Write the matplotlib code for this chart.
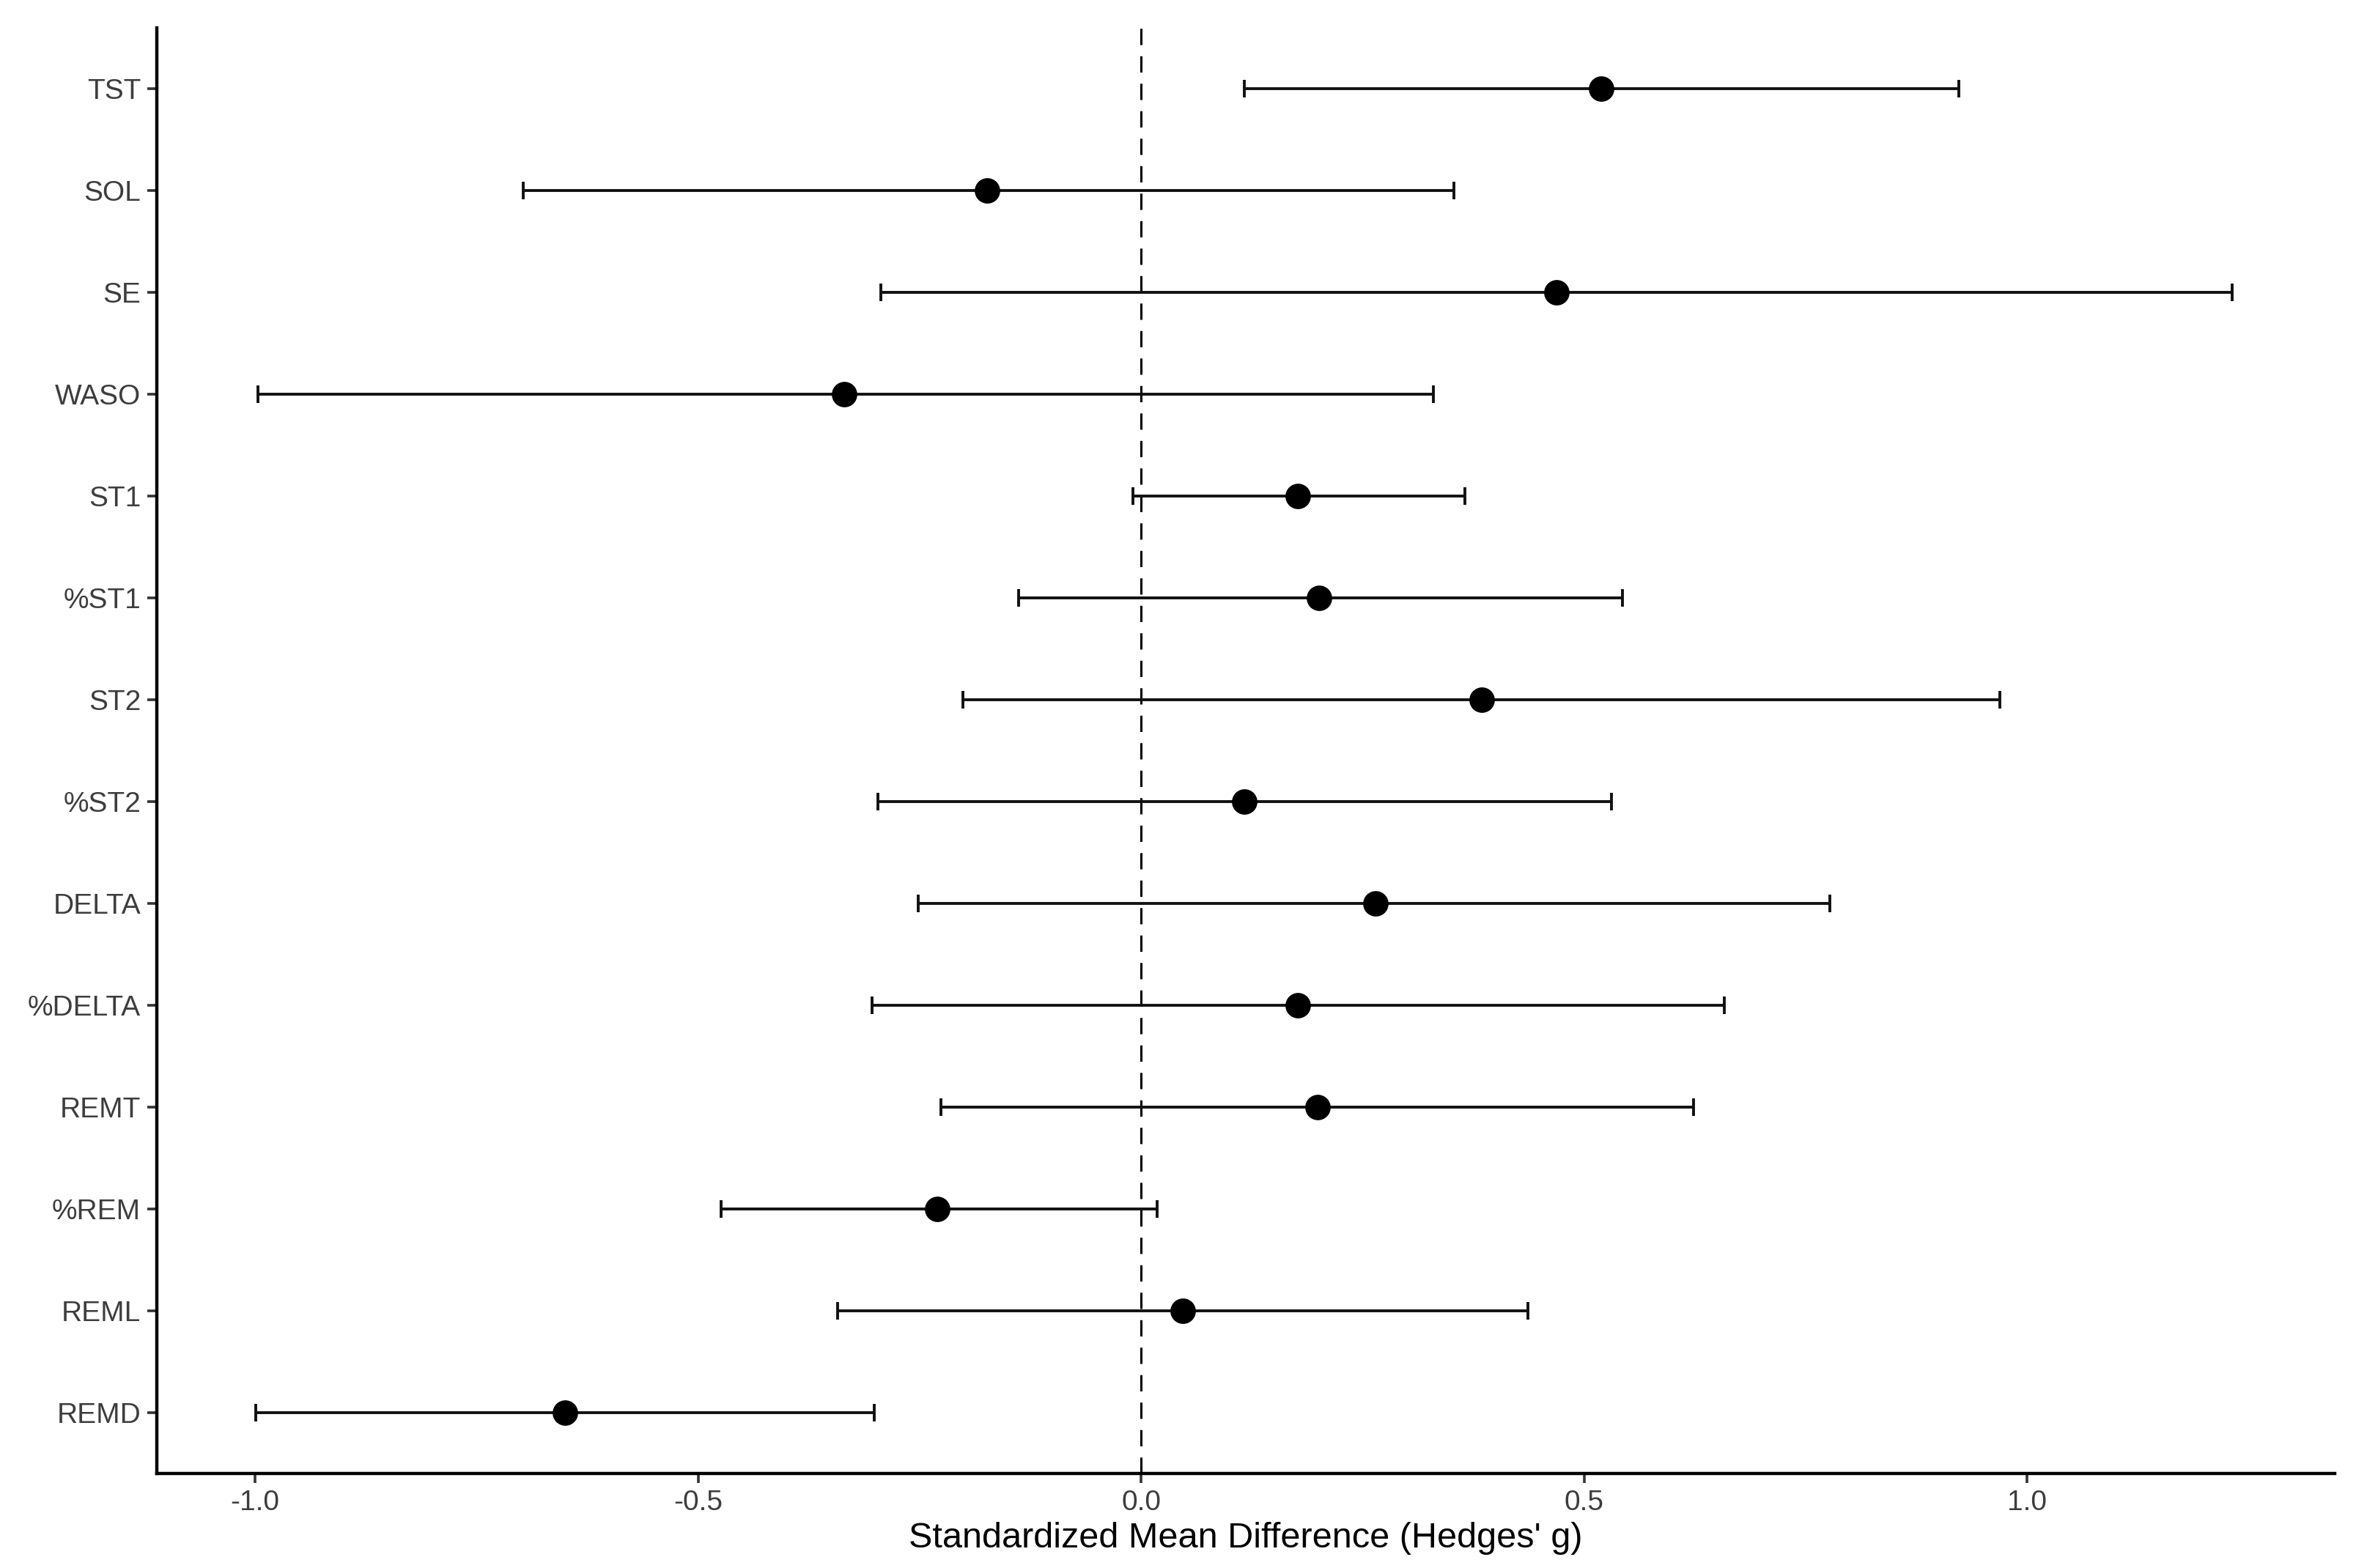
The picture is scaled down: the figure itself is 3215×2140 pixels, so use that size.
import matplotlib
matplotlib.use("Agg")
import matplotlib.pyplot as plt
import numpy as np

outcomes = ["TST", "SOL", "SE", "WASO", "ST1", "%ST1", "ST2", "%ST2",
            "DELTA", "%DELTA", "REMT", "%REM", "REML", "REMD"]
hedges_g = [0.519, -0.174, 0.469, -0.335, 0.177, 0.201, 0.384, 0.116,
            0.264, 0.177, 0.199, -0.230, 0.047, -0.650]
ci_low = [0.116, -0.697, -0.294, -0.997, -0.009, -0.138, -0.201, -0.297,
          -0.252, -0.304, -0.226, -0.474, -0.343, -0.999]
ci_high = [0.923, 0.353, 1.231, 0.330, 0.365, 0.543, 0.969, 0.531,
           0.777, 0.658, 0.623, 0.018, 0.436, -0.301]
x_ticks = [-1.0, -0.5, 0.0, 0.5, 1.0]
x_label = "Standardized Mean Difference (Hedges' g)"

plt.rcParams['font.family'] = ['Liberation Sans', 'DejaVu Sans']
plt.rcParams['lines.scale_dashes'] = False

fig = plt.figure(figsize=(16.08, 10.7), dpi=200)
ax = fig.add_axes([0.0665, 0.0603, 0.9907 - 0.0665, 0.9822 - 0.0603])

n = len(outcomes)
y = np.arange(n)[::-1]
g = np.array(hedges_g)
lo = np.array(ci_low)
hi = np.array(ci_high)

ax.axvline(0, color='black', linewidth=1.1, linestyle=(0, (8, 5.5)), zorder=1)
ax.errorbar(g, y, xerr=[g - lo, hi - g], fmt='o', color='black',
            ecolor='#111111', elinewidth=1.4, capsize=4.2, capthick=1.4,
            markersize=11.5, zorder=3)

ax.set_yticks(y)
ax.set_yticklabels(outcomes)
ax.set_xticks(x_ticks)
ax.set_xticklabels([f"{t:.1f}" for t in x_ticks])
ax.set_xlim(-1.111, 1.347)
ax.set_ylim(-0.6, n - 1 + 0.6)
ax.set_xlabel(x_label, fontsize=17.5, color='black', labelpad=3)

for s in ['top', 'right']:
    ax.spines[s].set_visible(False)
for s in ['left', 'bottom']:
    ax.spines[s].set_linewidth(1.6)
    ax.spines[s].set_color('black')
ax.tick_params(axis='both', length=4.8, width=1.3, color='#333333',
               labelsize=14, labelcolor='#3d3d3d', pad=3)

fig.savefig("out.png", dpi=200)
